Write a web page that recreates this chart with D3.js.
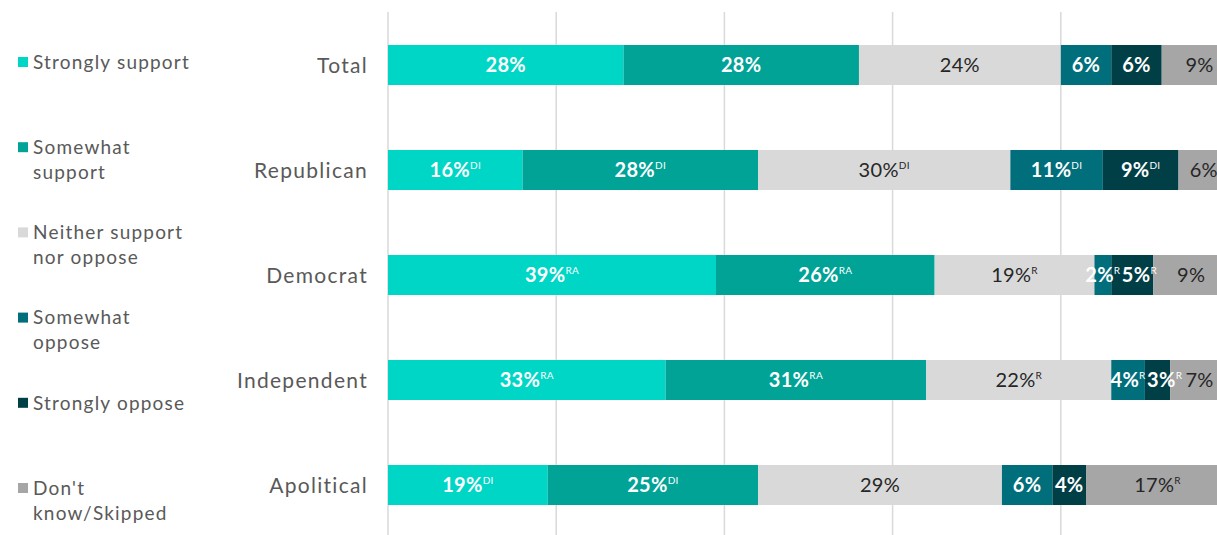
<!DOCTYPE html>
<html>
<head>
<meta charset="utf-8">
<script src="https://cdn.jsdelivr.net/npm/d3@7"></script>
<style>
  html, body { margin: 0; padding: 0; background: #fff; }
  svg { display: block; }
</style>
</head>
<body>
<svg id="chart" width="1217" height="535"></svg>
<script>
// Response groups (rows) and answer options (stacked segments)
const categories = ["Total", "Republican", "Democrat", "Independent", "Apolitical"];
const seriesKeys = ["strongSupport", "someSupport", "neither", "someOppose", "strongOppose", "dontKnow"];
const legendLines = [
  ["Strongly support"],
  ["Somewhat", "support"],
  ["Neither support", "nor oppose"],
  ["Somewhat", "oppose"],
  ["Strongly oppose"],
  ["Don't", "know/Skipped"]
];

// Percentages per group, in the order of `categories`
const strongSupport = [28, 16, 39, 33, 19];
const someSupport   = [28, 28, 26, 31, 25];
const neither       = [24, 30, 19, 22, 29];
const someOppose    = [6, 11, 2, 4, 6];
const strongOppose  = [6, 9, 5, 3, 4];
const dontKnow      = [9, 6, 9, 7, 17];

// Significance markers printed after each value
const supStrongSupport = ["", "DI", "RA", "RA", "DI"];
const supSomeSupport   = ["", "DI", "RA", "RA", "DI"];
const supNeither       = ["", "DI", "R", "R", ""];
const supSomeOppose    = ["", "DI", "R", "R", ""];
const supStrongOppose  = ["", "DI", "R", "R", ""];
const supDontKnow      = ["", "", "", "", "R"];

const gridTicks = [0, 20, 40, 60, 80, 100];

const valuesByKey = { strongSupport, someSupport, neither, someOppose, strongOppose, dontKnow };
const supsByKey = {
  strongSupport: supStrongSupport, someSupport: supSomeSupport, neither: supNeither,
  someOppose: supSomeOppose, strongOppose: supStrongOppose, dontKnow: supDontKnow
};

const colors = {
  strongSupport: "#00d6c6",
  someSupport: "#00a396",
  neither: "#d9d9d9",
  someOppose: "#006e7b",
  strongOppose: "#013f47",
  dontKnow: "#a6a6a6"
};
const labelColors = {
  strongSupport: "#ffffff",
  someSupport: "#ffffff",
  neither: "#262626",
  someOppose: "#ffffff",
  strongOppose: "#ffffff",
  dontKnow: "#262626"
};

const rows = categories.map((c, i) => {
  const r = { category: c };
  seriesKeys.forEach(k => { r[k] = valuesByKey[k][i]; });
  return r;
});

const svg = d3.select("#chart");
const font = "Lato, 'Open Sans', sans-serif";

const x = d3.scaleLinear().domain([0, 100]).range([388, 1229]);
const y = d3.scaleBand().domain(categories).range([12.5, 537.5])
  .paddingInner(0.619).paddingOuter(0.3095);

// Vertical gridlines
svg.append("g").selectAll("line").data(gridTicks).join("line")
  .attr("x1", d => x(d)).attr("x2", d => x(d))
  .attr("y1", 12).attr("y2", 535)
  .attr("stroke", "#d9d9d9").attr("stroke-width", 1.5);

// Stacked bars
const stacked = d3.stack().keys(seriesKeys)(rows);

const layers = svg.append("g").selectAll("g").data(stacked).join("g")
  .attr("fill", d => colors[d.key]);

layers.selectAll("rect").data(d => d).join("rect")
  .attr("x", d => x(d[0]))
  .attr("width", d => x(d[1]) - x(d[0]))
  .attr("y", d => y(d.data.category))
  .attr("height", y.bandwidth());

// Value labels with superscript markers, collected per row for spacing
const labelGroup = svg.append("g");
const rowLabels = categories.map(() => []);
stacked.forEach(layer => {
  const key = layer.key;
  layer.forEach((d, i) => {
    const white = labelColors[key] === "#ffffff";
    const t = labelGroup.append("text")
      .attr("x", (x(d[0]) + x(d[1])) / 2)
      .attr("y", y(d.data.category) + y.bandwidth() / 2)
      .attr("dy", "0.36em")
      .attr("text-anchor", "middle")
      .attr("font-family", font)
      .attr("font-size", 20)
      .attr("font-weight", white ? 700 : 400)
      .attr("letter-spacing", 0.3)
      .attr("fill", labelColors[key]);
    t.append("tspan").text(valuesByKey[key][i] + "%");
    const s = supsByKey[key][i];
    if (s) {
      t.append("tspan").attr("font-size", 10).attr("font-weight", 400)
        .attr("dy", "-0.8em").text(s);
    }
    rowLabels[i].push(t);
  });
});

// Keep neighbouring labels in narrow segments from running into each other
rowLabels.forEach(list => {
  let prevRight = -Infinity;
  list.forEach(t => {
    const w = t.node().getBBox().width;
    let cx = +t.attr("x");
    if (cx - w / 2 < prevRight + 1) cx = prevRight + 1 + w / 2;
    t.attr("x", cx);
    prevRight = cx + w / 2;
  });
});

// Row labels
svg.append("g").selectAll("text").data(categories).join("text")
  .attr("x", 368)
  .attr("y", d => y(d) + y.bandwidth() / 2)
  .attr("dy", "0.36em")
  .attr("text-anchor", "end")
  .attr("font-family", font)
  .attr("font-size", 21)
  .attr("letter-spacing", 1.3)
  .attr("fill", "#595959")
  .text(d => d);

// Legend
const legendTop = 62, legendStep = 85.2, lineGap = 25;
const leg = svg.append("g").selectAll("g").data(seriesKeys).join("g")
  .attr("transform", (d, i) => `translate(0,${legendTop + i * legendStep})`);
leg.append("rect")
  .attr("x", 18).attr("y", -5).attr("width", 10).attr("height", 10)
  .attr("fill", d => colors[d]);
leg.append("text")
  .attr("font-family", font)
  .attr("font-size", 19)
  .attr("letter-spacing", 1.2)
  .attr("fill", "#595959")
  .selectAll("tspan").data((d, i) => legendLines[i]).join("tspan")
  .attr("x", 33)
  .attr("y", (d, j) => j * lineGap)
  .attr("dy", "0.36em")
  .text(d => d);
</script>
</body>
</html>
